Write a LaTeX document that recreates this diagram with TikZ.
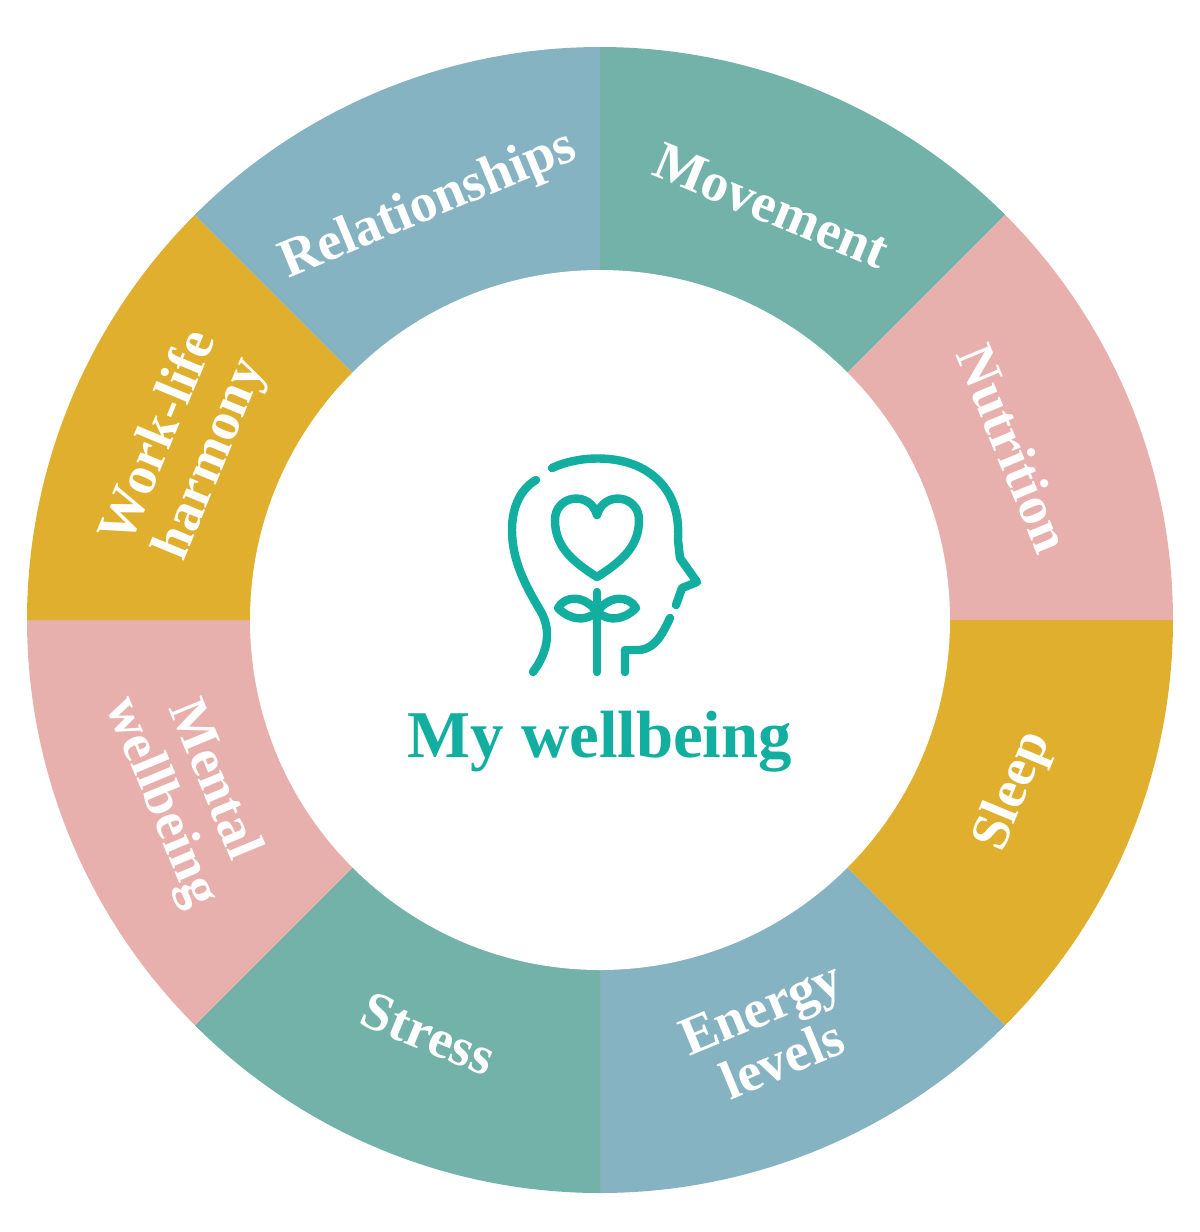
\documentclass[tikz,border=0pt]{standalone}
\usepackage{fontspec}
\setmainfont{Liberation Serif}
\usetikzlibrary{calc}
\definecolor{teal}{HTML}{72B2A8}
\definecolor{rose}{HTML}{E8B0AD}
\definecolor{gold}{HTML}{E0AF2E}
\definecolor{sky}{HTML}{86B3C1}
\definecolor{icon}{HTML}{12AFA0}
\tikzset{
  seglabel/.style={text=white, font=\fontsize{15.5}{16}\selectfont\bfseries, align=center},
  iconline/.style={draw=icon, line width=2.4pt, line cap=round, line join=round}
}
\begin{document}
\begin{tikzpicture}[x=0.01cm, y=-0.01cm]
  \useasboundingbox (0,0) rectangle (1200,1232);
  \coordinate (c) at (600,620);
  % sectors
  \foreach \a/\col in {45/teal, 0/rose, -45/gold, -90/sky, -135/teal, -180/rose, 135/gold, 90/sky} {
    \fill[\col] (c) -- ++(-\a:573) arc[start angle=-\a, end angle=-\a-45, radius=573] -- cycle;
  }
  \fill[white] (c) circle[radius=350];
  % labels
  \foreach \a/\txt in {67.5/Movement, 22.5/Nutrition, 112.5/Relationships, 157.5/{Work-life\\harmony}} {
    \node[seglabel, rotate=\a-90] at ($(c)+(-\a:448)$) {\txt};
  }
  \foreach \a/\txt in {-22.5/Sleep, -67.5/{Energy\\levels}, -112.5/Stress, -157.5/{Mental\\wellbeing}} {
    \node[seglabel, rotate=\a+90] at ($(c)+(-\a:448)$) {\txt};
  }
  \node (title) at (600,742) [text=icon, font=\fontsize{19}{20}\selectfont\bfseries] {My wellbeing};
  % head icon
  \draw[iconline] (533,672) .. controls (548,652) and (552,630) .. (540,610)
    .. controls (525,585) and (512,560) .. (512,530)
    .. controls (512,505) and (522,488) .. (536,480);
  \draw[iconline] (552,468) .. controls (580,455) and (620,455) .. (645,470)
    .. controls (670,485) and (680,510) .. (678,540)
    -- (680,558) -- (697,582) -- (682,588) -- (676,605);
  \draw[iconline] (670,618) .. controls (662,635) and (655,648) .. (640,650)
    -- (625,650) -- (625,672);
  \draw[iconline] (597,577) .. controls (570,560) and (555,545) .. (555,520)
    .. controls (555,495) and (590,490) .. (597,515)
    .. controls (604,490) and (639,495) .. (639,520)
    .. controls (639,545) and (624,560) .. (597,577);
  \draw[iconline] (597,592) -- (597,672);
  \draw[iconline] (597,612) .. controls (585,595) and (565,595) .. (558,608)
    .. controls (570,620) and (585,622) .. (597,612)
    .. controls (609,595) and (629,595) .. (636,608)
    .. controls (624,620) and (609,622) .. (597,612);
\end{tikzpicture}
\end{document}
